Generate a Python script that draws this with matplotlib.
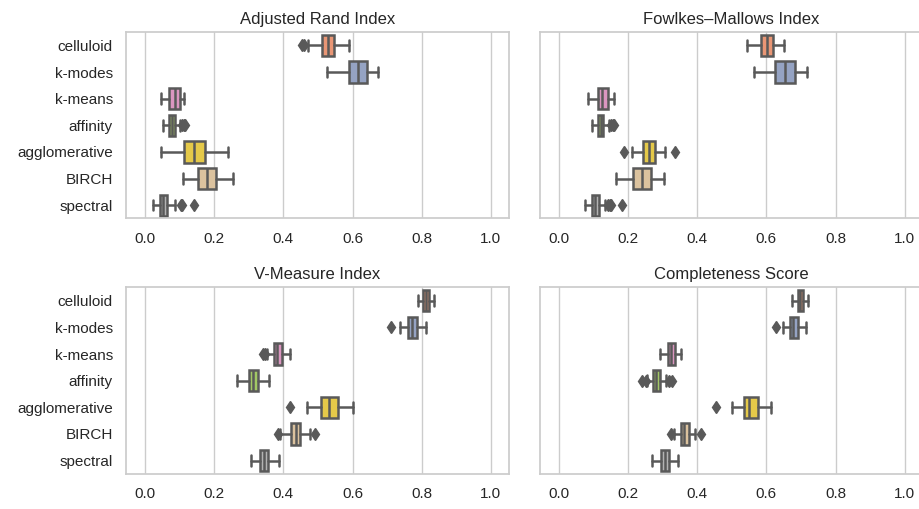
import matplotlib
matplotlib.use("Agg")
import matplotlib.pyplot as plt
import seaborn as sns

sns.set_theme(style="whitegrid")
plt.rcParams['font.family'] = ['Liberation Sans', 'DejaVu Sans']

methods = ["celluloid", "k-modes", "k-means", "affinity", "agglomerative", "BIRCH", "spectral"]

# per method: whisker low, q1, median, q3, whisker high
ari_box = [
    [0.470, 0.512, 0.530, 0.547, 0.590],
    [0.525, 0.589, 0.617, 0.641, 0.674],
    [0.045, 0.070, 0.088, 0.101, 0.113],
    [0.051, 0.069, 0.079, 0.087, 0.101],
    [0.046, 0.113, 0.142, 0.173, 0.241],
    [0.109, 0.154, 0.178, 0.206, 0.255],
    [0.022, 0.043, 0.053, 0.064, 0.087],
]
ari_out = [[0.455, 0.460], [], [], [0.106, 0.112, 0.115], [], [], [0.104, 0.108, 0.142]]

fmi_box = [
    [0.545, 0.584, 0.601, 0.618, 0.652],
    [0.564, 0.625, 0.655, 0.684, 0.716],
    [0.083, 0.114, 0.125, 0.143, 0.158],
    [0.096, 0.112, 0.122, 0.127, 0.144],
    [0.211, 0.242, 0.261, 0.279, 0.308],
    [0.166, 0.213, 0.239, 0.266, 0.303],
    [0.076, 0.096, 0.105, 0.115, 0.133],
]
fmi_out = [[], [], [], [0.150, 0.155, 0.158], [0.187, 0.335], [], [0.143, 0.148, 0.152, 0.183]]

vm_box = [
    [0.788, 0.805, 0.812, 0.820, 0.835],
    [0.736, 0.761, 0.773, 0.785, 0.811],
    [0.352, 0.372, 0.382, 0.395, 0.420],
    [0.266, 0.301, 0.313, 0.327, 0.359],
    [0.467, 0.510, 0.531, 0.558, 0.600],
    [0.391, 0.423, 0.435, 0.448, 0.477],
    [0.305, 0.331, 0.343, 0.356, 0.386],
]
vm_out = [[], [0.711], [0.340, 0.347], [], [0.418], [0.383, 0.490], []]

cs_box = [
    [0.675, 0.690, 0.698, 0.706, 0.721],
    [0.648, 0.667, 0.678, 0.691, 0.714],
    [0.291, 0.315, 0.325, 0.336, 0.353],
    [0.256, 0.272, 0.282, 0.293, 0.311],
    [0.500, 0.534, 0.549, 0.576, 0.612],
    [0.332, 0.352, 0.362, 0.375, 0.394],
    [0.268, 0.294, 0.306, 0.318, 0.345],
]
cs_out = [[], [0.627], [], [0.239, 0.251, 0.318, 0.327], [0.453], [0.323, 0.411], []]

titles = ["Adjusted Rand Index", "Fowlkes\u2013Mallows Index", "V-Measure Index", "Completeness Score"]
panels = [(ari_box, ari_out), (fmi_box, fmi_out), (vm_box, vm_out), (cs_box, cs_out)]

colors = sns.color_palette("Set2", 8, desat=0.75)[1:]
line_col = "#595959"
lw = 1.8

fig, axes = plt.subplots(2, 2, figsize=(9.2, 5.09), dpi=100, sharey=True)
fig.subplots_adjust(left=0.137, right=1.003, top=0.937, bottom=0.069, wspace=0.081, hspace=0.37)

for ax, title, (boxes, outs) in zip(axes.flat, titles, panels):
    stats = []
    for b, o in zip(boxes, outs):
        stats.append(dict(whislo=b[0], q1=b[1], med=b[2], q3=b[3], whishi=b[4], fliers=o))
    bp = ax.bxp(stats, positions=range(len(methods)), vert=False, widths=0.8,
                capwidths=0.4, patch_artist=True, manage_ticks=False,
                boxprops=dict(edgecolor=line_col, linewidth=lw),
                medianprops=dict(color=line_col, linewidth=lw),
                whiskerprops=dict(color=line_col, linewidth=lw),
                capprops=dict(color=line_col, linewidth=lw),
                flierprops=dict(marker="d", markerfacecolor=line_col,
                                markeredgecolor=line_col, markersize=6.5))
    for patch, c in zip(bp["boxes"], colors):
        patch.set_facecolor(c)
    ax.set_title(title, fontsize=12, color="0.15")
    ax.set_xlim(-0.055, 1.052)
    ax.set_xticks([0.0, 0.2, 0.4, 0.6, 0.8, 1.0])
    ax.set_yticks(range(len(methods)))
    ax.set_yticklabels(methods)
    ax.set_ylim(6.5, -0.5)
    ax.grid(axis="y", visible=False)
    ax.tick_params(labelsize=11, colors="0.15", left=False)

plt.savefig("out.png", dpi=100)
